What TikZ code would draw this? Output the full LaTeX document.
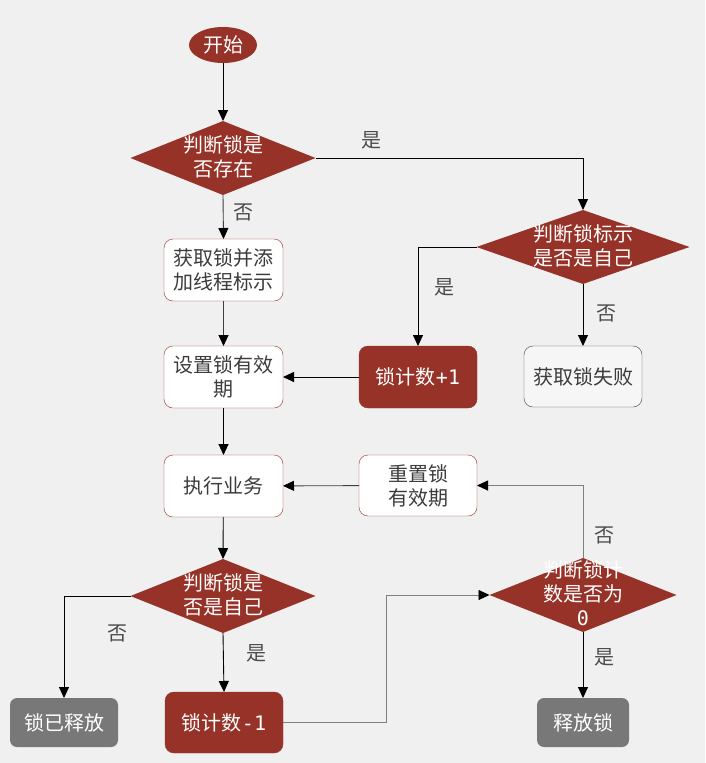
\documentclass[tikz,border=0pt]{standalone}
\usepackage{fontspec}
\setmainfont{Noto Sans CJK SC}
\newfontfamily\monofont{DejaVu Sans Mono}
\usetikzlibrary{shapes.geometric}
\usetikzlibrary{arrows.meta}
\definecolor{lockred}{RGB}{150,50,39}
\definecolor{bggray}{RGB}{240,240,240}
\definecolor{boxgray}{RGB}{120,120,120}
\definecolor{txtgray}{RGB}{60,60,60}
\definecolor{lblgray}{RGB}{75,75,75}
\newcommand{\dtext}[1]{\smash{\makebox[0pt]{\raisebox{-7pt}{\begin{tabular}{@{}c@{}}#1\end{tabular}}}}}

\begin{document}
\begin{tikzpicture}[x=1pt, y=-1pt, font=\fontsize{20}{24}\selectfont,
    box/.style={draw=lockred, fill=white, rounded corners=9pt, minimum width=119pt, minimum height=62pt, text=txtgray, align=center, inner sep=0pt, outer sep=0pt},
    redbox/.style={box, fill=lockred, text=white},
    graybox/.style={fill=boxgray, rounded corners=7pt, minimum height=49pt, text=white, inner sep=0pt, outer sep=0pt},
    decision/.style={diamond, fill=lockred, text=white, minimum width=#1, minimum height=74pt, inner sep=0pt, outer sep=0pt},
    decision/.default=185pt,
    arr/.style={-{Triangle[width=10pt,length=11pt,color=black]}, line width=0.9pt},
    lbl/.style={text=lblgray}]
    \fill[bggray] (0,0) rectangle (705,763);
    \useasboundingbox (0,0) rectangle (705,763);

    \node[ellipse, fill=lockred, text=white, minimum width=68pt, minimum height=36pt, inner sep=0pt, outer sep=0pt] (start) at (223,45) {开始};
    \node[decision] (lockexists) at (223,158) {\dtext{判断锁是\\否存在}};
    \node[decision=213pt] (ownerflag) at (583,247) {\dtext{判断锁标示\\是否是自己}};
    \node[box] (acquire) at (223.5,270) {获取锁并添\\加线程标示};
    \node[box] (setexpire) at (223.5,377) {设置锁有效\\期};
    \node[redbox, minimum width=118pt] (countup) at (418,377) {锁计数{\monofont+1}};
    \node[box, draw=darkgray, fill=bggray!60!white, minimum width=118pt, minimum height=61pt] (fail) at (583,376.5) {获取锁失败};
    \node[box] (business) at (223.5,486) {执行业务};
    \node[box, minimum width=118pt, minimum height=61pt] (resetexpire) at (418,485.5) {重置锁\\有效期};
    \node[decision=187pt] (countzero) at (583,595) {\dtext{判断锁计\\数是否为\\{\monofont 0}}};
    \node[decision] (ownercheck) at (223,596) {\dtext{判断锁是\\否是自己}};
    \node[graybox, minimum width=108pt] (released) at (64,722.5) {锁已释放};
    \node[redbox, minimum width=118pt, minimum height=61pt] (countdown) at (224,722.5) {锁计数{\monofont-1}};
    \node[graybox, minimum width=92pt] (release) at (583,722.5) {释放锁};

    \node[lbl] (yes1) at (371,140) {是};
    \node[lbl] (no1) at (243,212) {否};
    \node[lbl] (yes2) at (444,287) {是};
    \node[lbl] (no2) at (606,313) {否};
    \node[lbl] (no3) at (117,633) {否};
    \node[lbl] (yes3) at (256,653) {是};
    \node[lbl] (no4) at (604,535) {否};
    \node[lbl] (yes4) at (604,657) {是};

    \draw[arr] (start) -- (lockexists);
    \draw[arr] (lockexists.east) -| (ownerflag.north);
    \draw[arr, draw=darkgray] (lockexists.south) -- (acquire.north);
    \draw[arr] (ownerflag.west) -| (countup.north);
    \draw[arr] (ownerflag.south) -- (fail.north);
    \draw[arr, draw=darkgray] (acquire) -- (setexpire);
    \draw[arr] (countup) -- (setexpire);
    \draw[arr] (setexpire) -- (business);
    \draw[arr, draw=darkgray] (resetexpire) -- (business);
    \draw[arr] (business) -- (ownercheck.north);
    \draw[arr] (ownercheck.west) -| (released.north);
    \draw[arr] (ownercheck.south) -- (countdown.north);
    \draw[arr, draw=gray] (countdown.east) -- ++(103,0) |- (countzero.west);
    \draw[arr, draw=gray] (countzero.north) |- (resetexpire.east);
    \draw[arr] (countzero.south) -- (release.north);
\end{tikzpicture}
\end{document}
